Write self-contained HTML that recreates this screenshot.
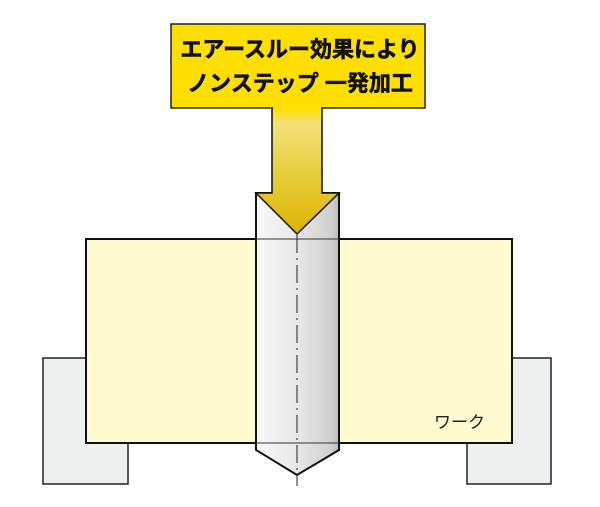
<!DOCTYPE html>
<html><head><meta charset="utf-8"><style>
html,body{margin:0;padding:0;background:#fff;}
svg{display:block;}
</style></head><body>
<svg width="600" height="507" viewBox="0 0 600 507" xmlns="http://www.w3.org/2000/svg">
<defs>
<linearGradient id="drill" x1="0" x2="1" y1="0" y2="0">
<stop offset="0" stop-color="#f8f8f8"/>
<stop offset="0.5" stop-color="#e8e8e8"/>
<stop offset="0.9" stop-color="#d0d0d0"/>
<stop offset="1" stop-color="#bcbcbc"/>
</linearGradient>
<linearGradient id="stem" x1="0" x2="0" y1="0" y2="1">
<stop offset="0" stop-color="#ffdf00"/>
<stop offset="0.12" stop-color="#f3e27a"/>
<stop offset="0.5" stop-color="#e8cf40"/>
<stop offset="1" stop-color="#dcb400"/>
</linearGradient>
</defs>
<rect x="43" y="358" width="85" height="126" fill="#eef0ef" stroke="#222" stroke-width="1.5"/>
<rect x="467" y="358" width="84" height="126" fill="#eef0ef" stroke="#222" stroke-width="1.5"/>
<rect x="86" y="239" width="426" height="204" fill="#fffad0" stroke="#111" stroke-width="2"/>
<path d="M256 193 L339 193 L339 450 L297 475 L256 450 Z" fill="url(#drill)" stroke="#111" stroke-width="2"/>
<line x1="256" y1="239" x2="339" y2="239" stroke="#333" stroke-width="1"/>
<line x1="256" y1="443" x2="339" y2="443" stroke="#333" stroke-width="1"/>
<line x1="297" y1="235" x2="297" y2="486" stroke="#222" stroke-width="1" stroke-dasharray="18,5,2,5"/>
<path d="M272 108 L322 108 L322 193 L339 193 L297 234 L256 193 L272 193 Z" fill="url(#stem)" stroke="#111" stroke-width="1.5" stroke-linejoin="miter"/>
<rect x="171" y="24" width="254" height="84" fill="#ffdf00" stroke="#222" stroke-width="1.5"/>
<rect x="273" y="106" width="48" height="4" fill="#ffdf00"/>
<text x="300" y="57" text-anchor="middle" font-family="Liberation Sans, Noto Sans CJK JP, sans-serif" font-weight="bold" font-size="22" fill="#111" stroke="#111" stroke-width="0.6">エアースルー効果により</text>
<text x="300" y="91" text-anchor="middle" font-family="Liberation Sans, Noto Sans CJK JP, sans-serif" font-weight="bold" font-size="22" fill="#111" stroke="#111" stroke-width="0.6">ノンステップ 一発加工</text>
<text x="434" y="428" font-family="Liberation Sans, Noto Sans CJK JP, sans-serif" font-size="17" fill="#222">ワーク</text>
</svg>
</body></html>
